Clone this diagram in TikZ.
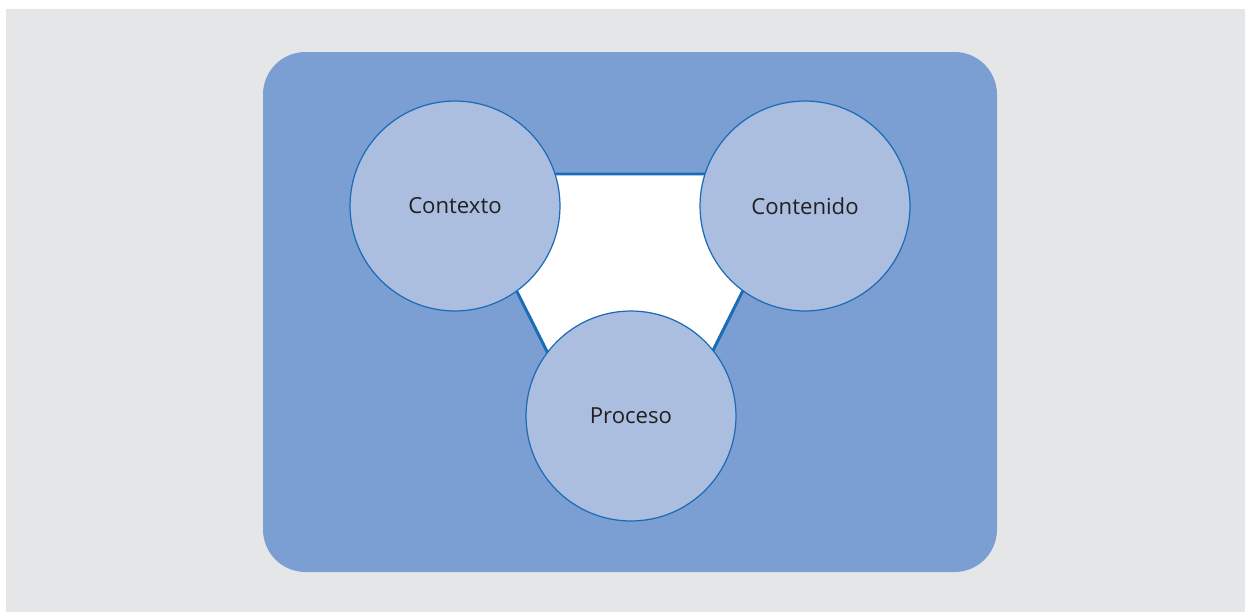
\documentclass[tikz,border=0pt]{standalone}
\usepackage{fontspec}
\setmainfont{Open Sans}
\usepackage{xcolor}

\definecolor{bggray}{HTML}{E5E6E8}
\definecolor{panelblue}{HTML}{7B9FD3}
\definecolor{topicfill}{HTML}{ABBEE0}
\definecolor{edgeblue}{HTML}{1B6CB6}
\definecolor{labelink}{HTML}{231F20}

\tikzset{
  topic/.style={circle, draw=edgeblue, line width=0.7pt, fill=topicfill,
    minimum size=4.2cm, inner sep=0pt, text=labelink, font=\fontsize{12.6}{14}\selectfont}
}

\begin{document}
\begin{tikzpicture}[x=0.02cm,y=-0.02cm]
        \useasboundingbox (0,0) rectangle (1245,612);
        % Background and panel
        \fill[bggray] (6,9) rectangle (1245,612);
        \fill[panelblue, rounded corners=0.85cm] (263,52) rectangle (997,572);
        % Triangle behind the circles
        \filldraw[fill=white, draw=edgeblue, line width=1.7pt] (458,174) -- (801,174) -- (630,517) -- cycle;
        % The three circles
        \node[topic] (contexto) at (455,206) {Contexto};
        \node[topic] (contenido) at (805,206) {Contenido};
        \node[topic] (proceso) at (631,416) {Proceso};
    \end{tikzpicture}
\end{document}
